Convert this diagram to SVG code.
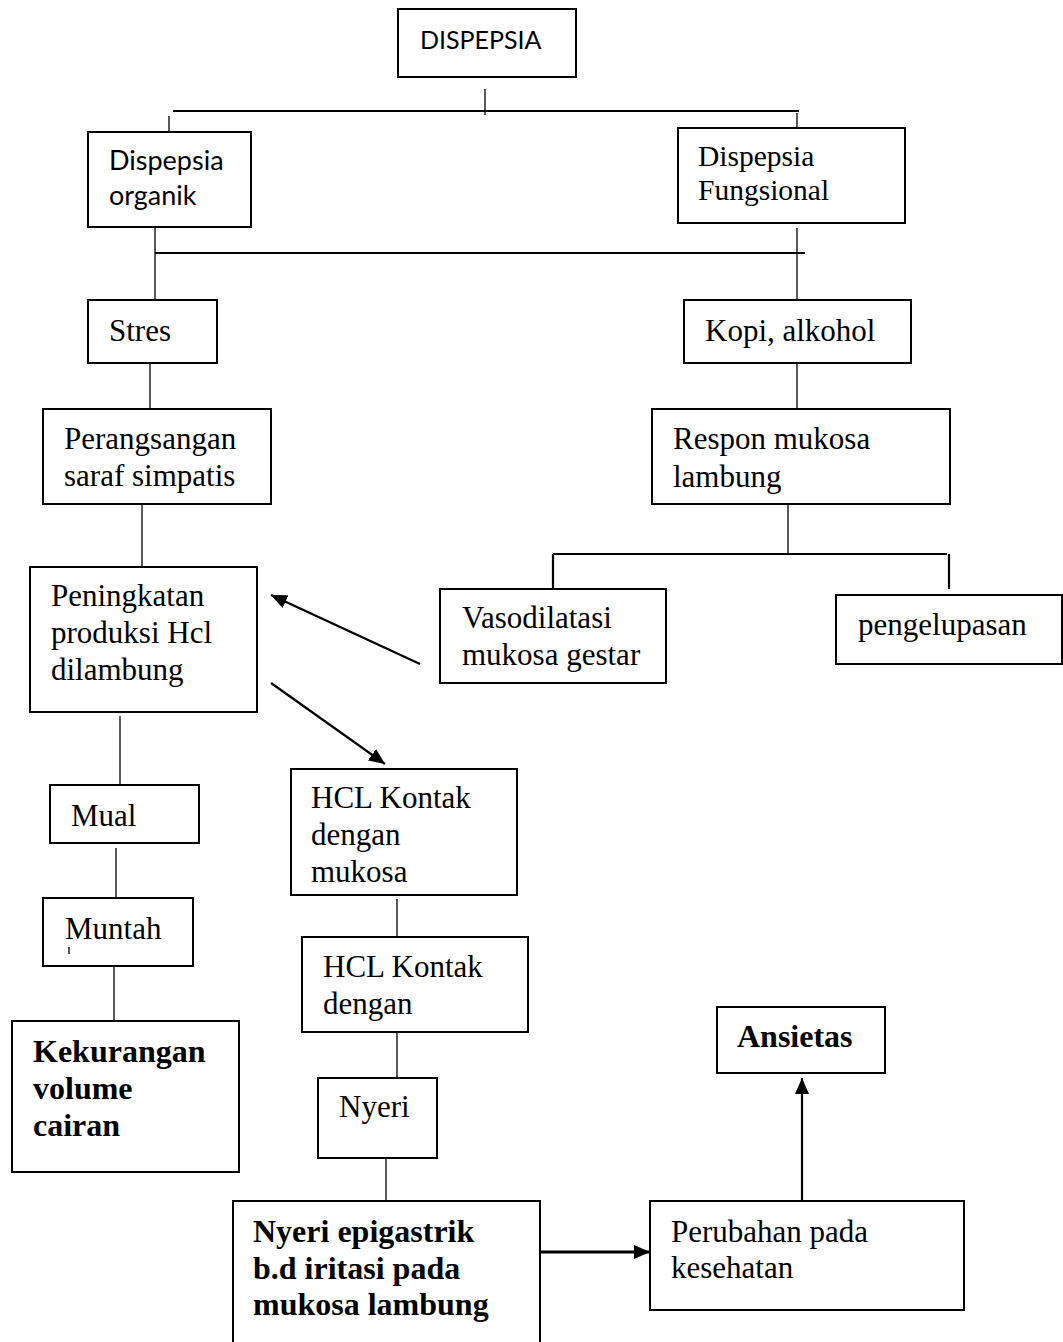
<svg xmlns="http://www.w3.org/2000/svg" width="1063" height="1342" viewBox="0 0 1063 1342">
<style>
.box{fill:#fff;stroke:#000;stroke-width:2}
.t{font-family:"Liberation Serif","Times New Roman",serif;font-size:31px;fill:#000}
.b{font-weight:bold;font-size:32px}
.s{font-family:Lato,"Liberation Sans",sans-serif;font-size:25px;fill:#000}
.ln{stroke:#000;stroke-width:1.3;fill:none}
.hl{stroke:#000;stroke-width:2.2;fill:none}
.ar{stroke:#000;stroke-width:2.2;fill:none;marker-end:url(#ah)}
</style>
<defs>
<marker id="ah" markerUnits="userSpaceOnUse" markerWidth="18" markerHeight="14" refX="16" refY="7" orient="auto">
<path d="M0,0 L16,7 L0,14 Z" fill="#000"/>
</marker>
</defs>
<rect width="1063" height="1342" fill="#fff"/>
<g id="connectors">
<line class="ln" x1="485" y1="89" x2="485" y2="115"/>
<line class="hl" x1="173" y1="111" x2="799" y2="111"/>
<line class="ln" x1="169" y1="116" x2="169" y2="132"/>
<line class="ln" x1="797" y1="113" x2="797" y2="128"/>
<line class="ln" x1="155" y1="227" x2="155" y2="300"/>
<line class="hl" x1="155" y1="253" x2="805" y2="253"/>
<line class="ln" x1="797" y1="228" x2="797" y2="300"/>
<line class="ln" x1="150" y1="363" x2="150" y2="411"/>
<line class="ln" x1="797" y1="363" x2="797" y2="411"/>
<line class="ln" x1="142" y1="504" x2="142" y2="568"/>
<line class="ln" x1="788" y1="504" x2="788" y2="554"/>
<line class="hl" x1="553" y1="554" x2="947" y2="554"/>
<line class="hl" x1="553" y1="554" x2="553" y2="602"/>
<line class="hl" x1="949" y1="554" x2="949" y2="589"/>
<line class="ar" x1="420" y1="664" x2="271" y2="595"/>
<line class="ar" x1="271" y1="683" x2="385" y2="764"/>
<line class="ln" x1="120" y1="716" x2="120" y2="793"/>
<line class="ln" x1="116" y1="848" x2="116" y2="910"/>
<line class="ln" x1="114" y1="966" x2="114" y2="1032"/>
<line class="ln" x1="397" y1="899" x2="397" y2="947"/>
<line class="ln" x1="397" y1="1032" x2="397" y2="1078"/>
<line class="ln" x1="386" y1="1158" x2="386" y2="1217"/>
<line class="ar" x1="536" y1="1252" x2="650" y2="1252" style="stroke-width:3"/>
<line class="ar" x1="802" y1="1201" x2="802" y2="1078"/>
</g>
<g id="dispepsia"><rect class="box" x="398" y="9" width="178" height="68"/><text class="s" x="420" y="49">DISPEPSIA</text></g>
<g id="organik"><rect class="box" x="88" y="132" width="163" height="95"/><text class="s" x="109" y="170" style="font-size:27px">Dispepsia</text><text class="s" x="109" y="205" style="font-size:27px">organik</text></g>
<g id="fungsional"><rect class="box" x="678" y="128" width="227" height="95"/><text class="t" x="698" y="166" style="font-size:29.5px">Dispepsia</text><text class="t" x="698" y="200" style="font-size:29.5px">Fungsional</text></g>
<g id="stres"><rect class="box" x="88" y="300" width="129" height="63"/><text class="t" x="109" y="341">Stres</text></g>
<g id="kopi"><rect class="box" x="684" y="300" width="227" height="63"/><text class="t" x="705" y="341">Kopi, alkohol</text></g>
<g id="perangsangan"><rect class="box" x="43" y="409" width="228" height="95"/><text class="t" x="64" y="449">Perangsangan</text><text class="t" x="64" y="486">saraf simpatis</text></g>
<g id="respon"><rect class="box" x="652" y="409" width="298" height="95"/><text class="t" x="673" y="449">Respon mukosa</text><text class="t" x="673" y="487">lambung</text></g>
<g id="peningkatan"><rect class="box" x="30" y="567" width="227" height="145"/><text class="t" x="51" y="606">Peningkatan</text><text class="t" x="51" y="643">produksi Hcl</text><text class="t" x="51" y="680">dilambung</text></g>
<g id="vasodilatasi"><rect class="box" x="440" y="589" width="226" height="94"/><text class="t" x="462" y="628">Vasodilatasi</text><text class="t" x="462" y="665">mukosa gestar</text></g>
<g id="pengelupasan"><rect class="box" x="836" y="595" width="226" height="69"/><text class="t" x="858" y="635">pengelupasan</text></g>
<g id="mual"><rect class="box" x="50" y="785" width="149" height="58"/><text class="t" x="71" y="826">Mual</text></g>
<g id="muntah"><rect class="box" x="43" y="898" width="150" height="68"/><text class="t" x="65" y="939">Muntah</text><line class="ln" x1="69" y1="947" x2="69" y2="954"/></g>
<g id="kekurangan"><rect class="box" x="12" y="1021" width="227" height="151"/><text class="t b" x="33" y="1062">Kekurangan</text><text class="t b" x="33" y="1099">volume</text><text class="t b" x="33" y="1136">cairan</text></g>
<g id="hcl1"><rect class="box" x="291" y="769" width="226" height="126"/><text class="t" x="311" y="808">HCL Kontak</text><text class="t" x="311" y="845">dengan</text><text class="t" x="311" y="882">mukosa</text></g>
<g id="hcl2"><rect class="box" x="302" y="937" width="226" height="95"/><text class="t" x="323" y="977">HCL Kontak</text><text class="t" x="323" y="1014">dengan</text></g>
<g id="nyeri"><rect class="box" x="318" y="1078" width="119" height="80"/><text class="t" x="339" y="1117">Nyeri</text></g>
<g id="epigastrik"><path class="box" d="M233,1345 V1201 H540 V1345"/><text class="t b" x="253" y="1242">Nyeri epigastrik</text><text class="t b" x="253" y="1279">b.d iritasi pada</text><text class="t b" x="253" y="1315">mukosa lambung</text></g>
<g id="perubahan"><rect class="box" x="650" y="1201" width="314" height="109"/><text class="t" x="671" y="1242">Perubahan pada</text><text class="t" x="671" y="1278">kesehatan</text></g>
<g id="ansietas"><rect class="box" x="717" y="1007" width="168" height="66"/><text class="t b" x="737" y="1047">Ansietas</text></g>
</svg>
